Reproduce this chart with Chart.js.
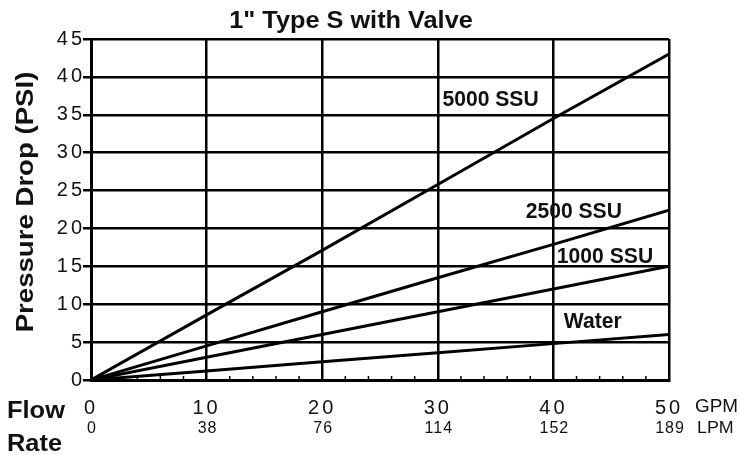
<!DOCTYPE html>
<html>
<head>
<meta charset="utf-8">
<script src="https://cdn.jsdelivr.net/npm/chart.js@4.4.0/dist/chart.umd.min.js"></script>
<style>
  html, body { margin: 0; padding: 0; background: #fff; }
  #wrap { width: 739px; height: 455px; }
</style>
</head>
<body>
<div id="wrap"><canvas id="chart" width="739" height="455"></canvas></div>
<script>
// values (pressure drop in PSI at each flow rate in GPM)
const flowGpm = [0, 10, 20, 30, 40, 50];
const flowLpm = ['0', '38', '76', '114', '152', '189'];
const drop5000 = [0, 8.6, 17.1, 25.8, 34.5, 43.0];
const drop2500 = [0, 4.5, 9.0, 13.5, 17.9, 22.4];
const drop1000 = [0, 3.0, 6.0, 9.0, 12.0, 15.0];
const dropWater = [0, 1.2, 2.4, 3.6, 4.8, 6.0];
const seriesNames = ['5000 SSU', '2500 SSU', '1000 SSU', 'Water'];

const FONT = '"Liberation Sans", Arial, Helvetica, sans-serif';
const INK = '#111';

// where the series names sit, in axis units (left edge, baseline)
const namePlacement = [
  { x: 30.4, y: 36.2 },
  { x: 37.6, y: 21.4 },
  { x: 40.3, y: 15.4 },
  { x: 40.9, y: 6.9 }
];

function toPoints(values) {
  return flowGpm.map((x, i) => ({ x: x, y: values[i] }));
}

function stretchText(ctx, text, x, y, font, sx, align) {
  ctx.save();
  ctx.font = font;
  ctx.textAlign = align || 'left';
  ctx.textBaseline = 'alphabetic';
  ctx.translate(x, y);
  ctx.scale(sx, 1);
  ctx.fillText(text, 0, 0);
  ctx.restore();
}

const decorations = {
  id: 'decorations',
  beforeDraw(chart) {
    // tick numbers in the original are widely spaced
    chart.ctx.letterSpacing = '3px';
  },
  beforeDatasetsDraw(chart) {
    chart.ctx.letterSpacing = '0px';
  },
  afterDraw(chart) {
    const ctx = chart.ctx;
    const xs = chart.scales.x;
    const ys = chart.scales.y;
    const area = chart.chartArea;
    ctx.save();
    ctx.letterSpacing = '0px';
    ctx.fillStyle = INK;
    ctx.strokeStyle = '#000';

    // small ticks along the bottom every 2 GPM
    ctx.lineWidth = 1.5;
    for (let v = 2; v < 50; v += 2) {
      if (v % 10 === 0) continue;
      const px = xs.getPixelForValue(v);
      ctx.beginPath();
      ctx.moveTo(px, area.bottom);
      ctx.lineTo(px, area.bottom - 4);
      ctx.stroke();
    }

    // LPM row under the GPM ticks
    ctx.save();
    ctx.letterSpacing = '1px';
    ctx.font = '16px ' + FONT;
    ctx.textAlign = 'center';
    flowGpm.forEach((g, i) => {
      ctx.fillText(flowLpm[i], xs.getPixelForValue(g) + 1, 433);
    });
    ctx.restore();

    stretchText(ctx, 'GPM', 695, 412, '18px ' + FONT, 1.05, 'left');
    stretchText(ctx, 'LPM', 697, 433, '17px ' + FONT, 1.05, 'left');

    stretchText(ctx, 'Flow', 7, 418, 'bold 24px ' + FONT, 1.06, 'left');
    stretchText(ctx, 'Rate', 7, 451, 'bold 24px ' + FONT, 1.06, 'left');

    // title
    stretchText(ctx, '1" Type S with Valve', 351, 28, 'bold 23px ' + FONT, 1.1, 'center');

    // y axis title
    ctx.save();
    ctx.translate(33, 202);
    ctx.rotate(-Math.PI / 2);
    stretchText(ctx, 'Pressure Drop (PSI)', 0, 0, 'bold 24px ' + FONT, 1.15, 'center');
    ctx.restore();

    // series names
    seriesNames.forEach((name, i) => {
      const p = namePlacement[i];
      stretchText(ctx, name, xs.getPixelForValue(p.x), ys.getPixelForValue(p.y), 'bold 22px ' + FONT, 0.96, 'left');
    });

    ctx.restore();
  }
};

const lineStyle = {
  borderColor: '#000',
  borderWidth: 3,
  pointRadius: 0,
  tension: 0,
  fill: false
};

new Chart(document.getElementById('chart'), {
  type: 'line',
  data: {
    datasets: [
      Object.assign({ label: seriesNames[0], data: toPoints(drop5000) }, lineStyle),
      Object.assign({ label: seriesNames[1], data: toPoints(drop2500) }, lineStyle),
      Object.assign({ label: seriesNames[2], data: toPoints(drop1000) }, lineStyle),
      Object.assign({ label: seriesNames[3], data: toPoints(dropWater) }, lineStyle)
    ]
  },
  options: {
    responsive: false,
    animation: false,
    layout: { padding: { top: 39, right: 70, left: 0, bottom: 0 } },
    plugins: {
      legend: { display: false },
      tooltip: { enabled: false },
      title: { display: false }
    },
    scales: {
      x: {
        type: 'linear',
        min: 0,
        max: 50,
        ticks: { stepSize: 10, color: INK, padding: 16, font: { family: FONT, size: 20 } },
        grid: { color: '#000', lineWidth: 2.5, drawTicks: false },
        border: { color: '#000', width: 3 },
        afterFit(scale) { scale.height = 75; }
      },
      y: {
        min: 0,
        max: 45,
        ticks: { stepSize: 5, color: INK, padding: -2, font: { family: FONT, size: 20 } },
        grid: { color: '#000', lineWidth: 2.5, tickLength: 8 },
        border: { color: '#000', width: 3 },
        afterFit(scale) { scale.width = 91; }
      }
    }
  },
  plugins: [decorations]
});
</script>
</body>
</html>
